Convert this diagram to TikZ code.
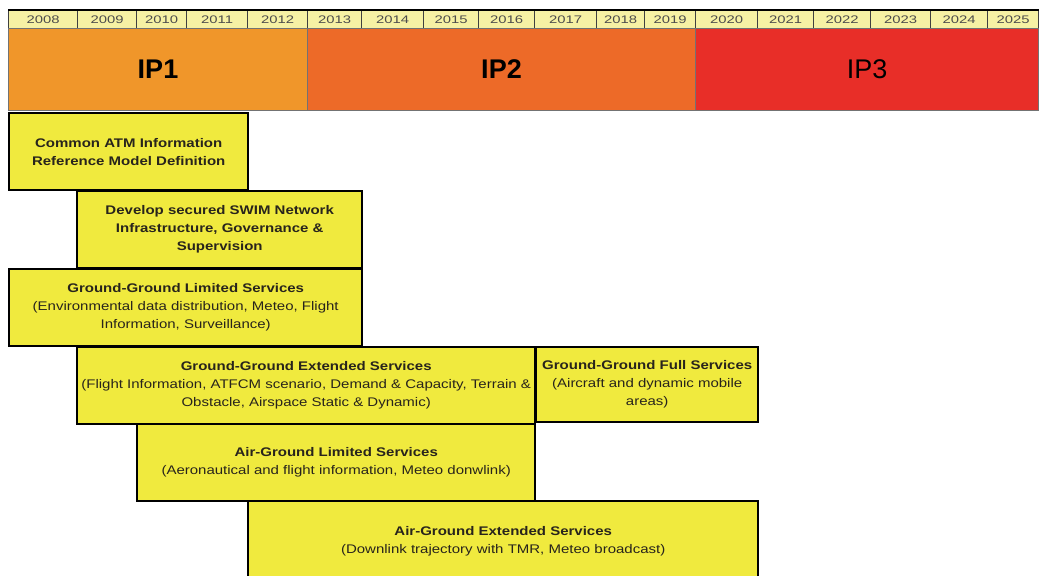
\documentclass[tikz,border=0pt]{standalone}
\usepackage{fontspec}
\setmainfont{Liberation Sans}
\newfontfamily\widefont[FakeStretch=1.2]{Liberation Sans}
\newfontfamily\yearfont[FakeStretch=1.35]{Liberation Sans}
\usetikzlibrary{positioning}

\definecolor{yearfill}{RGB}{246,241,164}
\definecolor{ipone}{RGB}{240,150,42}
\definecolor{iptwo}{RGB}{237,106,40}
\definecolor{ipthree}{RGB}{232,46,40}
\definecolor{boxfill}{RGB}{240,234,62}
\definecolor{boxtext}{RGB}{40,36,28}

\tikzset{
  yearcell/.style={draw=black!75, line width=1.2pt, fill=yearfill, inner sep=0pt,
    anchor=north west, minimum height=18pt, text=black!70,
    font=\yearfont\fontsize{11}{11}\selectfont},
  ipband/.style={fill=#1, draw=black!55, line width=1pt, inner sep=0pt,
    anchor=north west, minimum height=82pt, font=\fontsize{27}{27}\selectfont},
  workbox/.style={draw=black, line width=2.4pt, fill=boxfill, inner sep=0pt,
    anchor=north west, align=center, text=boxtext,
    font=\widefont\fontsize{12.5}{18}\selectfont}
}

\begin{document}
\begin{tikzpicture}[x=1pt, y=-1pt]
  \useasboundingbox (0,0) rectangle (1043,575);

  % years
  \foreach \yr/\xa/\xb in {2008/8/77, 2009/77/136, 2010/136/186, 2011/186/247,
      2012/247/307, 2013/307/361, 2014/361/423, 2015/423/478, 2016/478/534,
      2017/534/596, 2018/596/644, 2019/644/695, 2020/695/757, 2021/757/813,
      2022/813/870, 2023/870/930, 2024/930/987, 2025/987/1038}
  {
    \node [yearcell, minimum width={\xb-\xa}] (y\yr) at (\xa,10) {\yr};
  }
  \draw [line width=2pt] (y2008.north west) -- (y2025.north east);

  % implementation packages
  \node [ipband=ipone, minimum width=299pt] (ip1) at (8,28) {\bfseries IP1};
  \node [ipband=iptwo, minimum width=388pt] (ip2) at (307,28) {\bfseries IP2};
  \node [ipband=ipthree, minimum width=343pt] (ip3) at (695,28) {IP3};

  % work items
  \node [workbox, minimum width=239pt, minimum height=77pt] (atm) at (8,112)
    {\textbf{Common ATM Information}\\ \textbf{Reference Model Definition}};
  \node [workbox, minimum width=285pt, minimum height=77pt] (swim) at (76,190)
    {\textbf{Develop secured SWIM Network}\\ \textbf{Infrastructure, Governance \&}\\ \textbf{Supervision}};
  \node [workbox, minimum width=353pt, minimum height=77pt] (ggl) at (8,268)
    {\textbf{Ground-Ground Limited Services}\\ (Environmental data distribution, Meteo, Flight\\ Information, Surveillance)};
  \node [workbox, minimum width=458pt, minimum height=77pt] (gge) at (76,346)
    {\textbf{Ground-Ground Extended Services}\\ (Flight Information, ATFCM scenario, Demand \& Capacity, Terrain \&\\ Obstacle, Airspace Static \& Dynamic)};
  \node [workbox, minimum width=222pt, minimum height=75pt] (ggf) at (535,346)
    {\textbf{Ground-Ground Full Services}\\ (Aircraft and dynamic mobile\\ areas)};
  \node [workbox, minimum width=398pt, minimum height=77pt] (agl) at (136,423)
    {\textbf{Air-Ground Limited Services}\\ (Aeronautical and flight information, Meteo donwlink)};
  \node [workbox, minimum width=510pt, minimum height=80pt] (age) at (247,500)
    {\textbf{Air-Ground Extended Services}\\ (Downlink trajectory with TMR, Meteo broadcast)};
\end{tikzpicture}
\end{document}
